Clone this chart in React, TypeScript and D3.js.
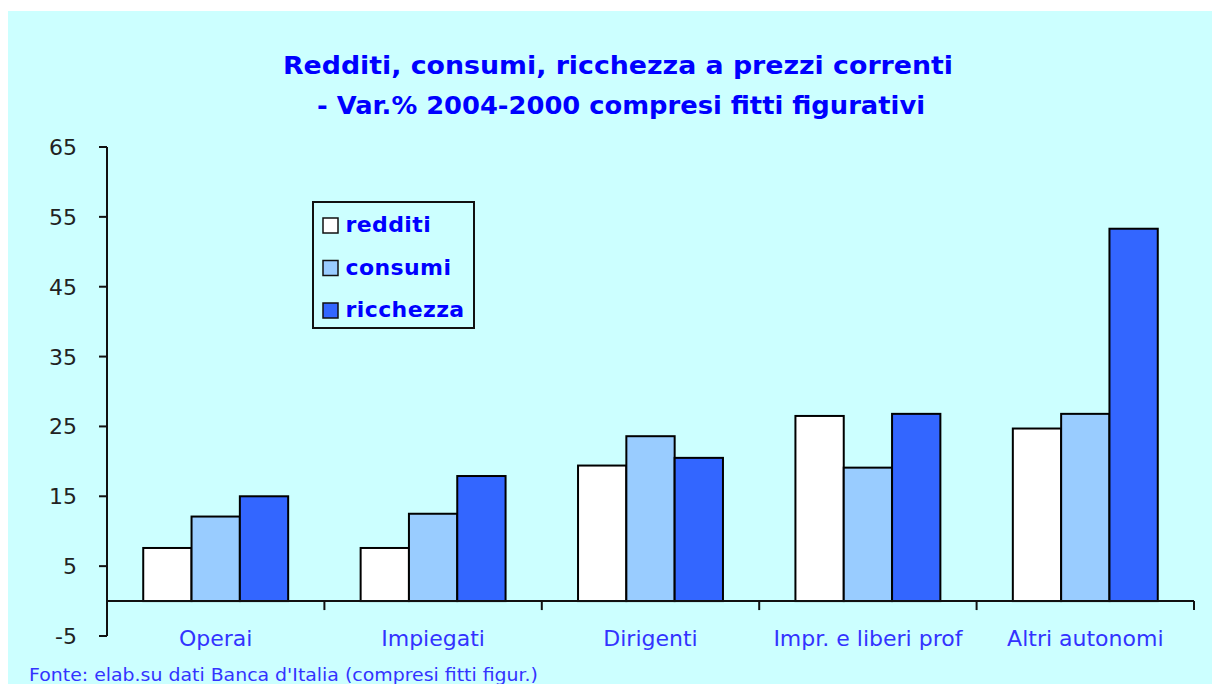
import React from "react";
import * as d3 from "d3";

const categories = ["Operai", "Impiegati", "Dirigenti", "Impr. e liberi prof", "Altri autonomi"];
const seriesNames = ["redditi", "consumi", "ricchezza"];
const redditi = [7.6, 7.6, 19.4, 26.5, 24.7];
const consumi = [12.1, 12.5, 23.6, 19.1, 26.8];
const ricchezza = [15.0, 17.9, 20.5, 26.8, 53.3];
const yTicks = [-5, 5, 15, 25, 35, 45, 55, 65];
const titleLines = [
  "Redditi, consumi, ricchezza a prezzi correnti",
  "- Var.% 2004-2000 compresi fitti figurativi",
];
const sourceText = "Fonte: elab.su dati Banca d'Italia (compresi fitti figur.)";

const seriesValues = [redditi, consumi, ricchezza];
const colors = ["#FFFFFF", "#99CCFF", "#3366FF"];
const BG = "#CCFFFF";
const FONT = "'DejaVu Sans', Arial, sans-serif";

export default function App() {
  const W = 1212;
  const H = 684;
  const x0 = d3.scaleBand<string>().domain(categories).range([107, 1194]).paddingInner(0).paddingOuter(0);
  const x1 = d3
    .scaleBand<string>()
    .domain(seriesNames)
    .range([0, x0.bandwidth()])
    .paddingInner(0)
    .paddingOuter(0.75);
  const y = d3.scaleLinear().domain([-5, 65]).range([636, 147]);
  const y0 = y(0);

  const legendX = 313;
  const legendY = 202;

  return (
    <svg
      width={W}
      height={H}
      style={{ position: "absolute", left: 0, top: 0, display: "block" }}
      fontFamily={FONT}
    >
      <rect x={0} y={0} width={W} height={H} fill="#FFFFFF" />
      <rect x={8} y={11} width={W - 8} height={H - 11} fill={BG} />

      {/* title */}
      <text
        x={283}
        y={73.5}
        fontSize={25}
        fontWeight="bold"
        fill="#0000FF"
        textLength={670}
        lengthAdjust="spacingAndGlyphs"
      >
        {titleLines[0]}
      </text>
      <text
        x={317}
        y={113.5}
        fontSize={25}
        fontWeight="bold"
        fill="#0000FF"
        textLength={608}
        lengthAdjust="spacingAndGlyphs"
      >
        {titleLines[1]}
      </text>

      {/* bars */}
      {categories.map((c, ci) => (
        <g key={c} transform={`translate(${x0(c)},0)`}>
          {seriesNames.map((s, si) => {
            const v = seriesValues[si][ci];
            const top = y(Math.max(0, v));
            const h = Math.abs(y(v) - y0);
            return (
              <rect
                key={s}
                x={x1(s)}
                y={top}
                width={x1.bandwidth()}
                height={h}
                fill={colors[si]}
                stroke="#000"
                strokeWidth={2}
              />
            );
          })}
        </g>
      ))}

      {/* y axis */}
      <line x1={107} x2={107} y1={y(65)} y2={y(-5)} stroke="#111" strokeWidth={2} />
      {yTicks.map((t) => (
        <g key={t}>
          <line x1={99} x2={107} y1={y(t)} y2={y(t)} stroke="#111" strokeWidth={2} />
          <text x={77} y={y(t) + 8} textAnchor="end" fontSize={22} fill="#222">
            {t}
          </text>
        </g>
      ))}

      {/* x axis */}
      <line x1={107} x2={1194} y1={y0} y2={y0} stroke="#111" strokeWidth={2} />
      {categories.map((c) => (
        <line
          key={c + "t"}
          x1={(x0(c) as number) + x0.bandwidth()}
          x2={(x0(c) as number) + x0.bandwidth()}
          y1={y0}
          y2={y0 + 9}
          stroke="#111"
          strokeWidth={2}
        />
      ))}
      {categories.map((c) => (
        <text
          key={c + "l"}
          x={(x0(c) as number) + x0.bandwidth() / 2}
          y={646}
          textAnchor="middle"
          fontSize={22}
          fill="#3333FF"
        >
          {c}
        </text>
      ))}

      {/* legend */}
      <rect x={legendX} y={legendY} width={161} height={126} fill={BG} stroke="#111" strokeWidth={2} />
      {seriesNames.map((s, i) => (
        <g key={s}>
          <rect
            x={323}
            y={218 + i * 42.5}
            width={15}
            height={15}
            fill={colors[i]}
            stroke="#111"
            strokeWidth={1.5}
          />
          <text
            x={345.5}
            y={232 + i * 42.5}
            fontSize={22}
            fontWeight="bold"
            letterSpacing={0.4}
            fill="#0000FF"
          >
            {s}
          </text>
        </g>
      ))}

      {/* source */}
      <text
        x={29}
        y={681}
        fontSize={17}
        fill="#3333FF"
        textLength={509}
        lengthAdjust="spacingAndGlyphs"
      >
        {sourceText}
      </text>
    </svg>
  );
}
